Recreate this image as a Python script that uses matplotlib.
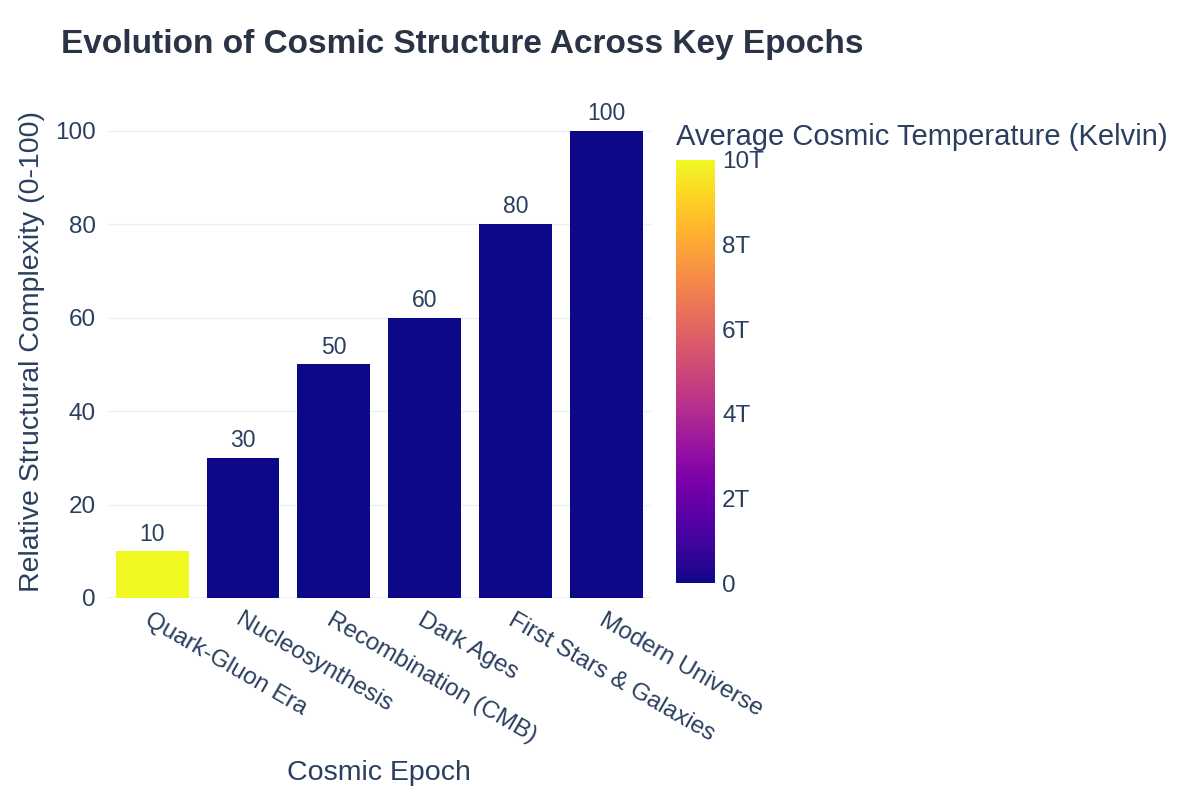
import matplotlib.pyplot as plt
import matplotlib as mpl
from matplotlib.ticker import FuncFormatter

plt.rcParams['font.family'] = ['Liberation Sans', 'DejaVu Sans']
text_color = '#2a3f5f'

epochs = ['Quark-Gluon Era', 'Nucleosynthesis', 'Recombination (CMB)',
          'Dark Ages', 'First Stars & Galaxies', 'Modern Universe']
complexity = [10, 30, 50, 60, 80, 100]
temperature = [1e13, 1e9, 3000, 60, 20, 2.7]

fig = plt.figure(figsize=(12, 8), dpi=100)
ax = fig.add_axes([0.089, 0.2525, 0.454, 0.6165])

cmap = plt.get_cmap('plasma')
norm = mpl.colors.Normalize(vmin=0, vmax=max(temperature))
colors = [cmap(norm(t)) for t in temperature]

x = range(len(epochs))
bars = ax.bar(x, complexity, width=0.8, color=colors, zorder=3)
for b, v in zip(bars, complexity):
    ax.text(b.get_x() + b.get_width() / 2, v + 1.2, str(v), ha='center', va='bottom',
            fontsize=16.5, color=text_color, zorder=4, clip_on=False)

ax.set_xlim(-0.5, len(epochs) - 0.5)
ax.set_ylim(0, 105.5)
ax.set_yticks([0, 20, 40, 60, 80, 100])
ax.grid(axis='y', color='#ebf0f8', linewidth=1, zorder=0)
ax.axhline(0, color='#ebf0f8', linewidth=2, zorder=2)
for s in ax.spines.values():
    s.set_visible(False)
ax.tick_params(length=0, labelsize=17.5, labelcolor=text_color, pad=8)
ax.set_xticks(list(x))
ax.set_xticklabels(epochs, rotation=-30, ha='left', rotation_mode='anchor')
ax.set_xlabel('Cosmic Epoch', fontsize=20.5, color=text_color, va='center')
ax.xaxis.set_label_coords(0.5, -0.354)
ax.set_ylabel('Relative Structural Complexity (0-100)', fontsize=20.5, color=text_color, labelpad=7)

fig.text(0.051, 0.945, 'Evolution of Cosmic Structure Across Key Epochs', fontsize=24,
         fontweight='bold', color='#2b3446', ha='left', va='center')

cax = fig.add_axes([0.563, 0.271, 0.033, 0.529])
cb = mpl.colorbar.ColorbarBase(cax, cmap=cmap, norm=norm)
cb.outline.set_visible(False)
cb.set_ticks([0, 2e12, 4e12, 6e12, 8e12, 1e13])
cb.ax.yaxis.set_major_formatter(FuncFormatter(lambda v, p: '0' if v == 0 else f'{v/1e12:.0f}T'))
cb.ax.tick_params(length=0, labelsize=17.5, labelcolor=text_color, pad=5)
fig.text(0.563, 0.829, 'Average Cosmic Temperature (Kelvin)', fontsize=21,
         color=text_color, ha='left', va='center')

fig.savefig('out.png', dpi=100, facecolor='white')
